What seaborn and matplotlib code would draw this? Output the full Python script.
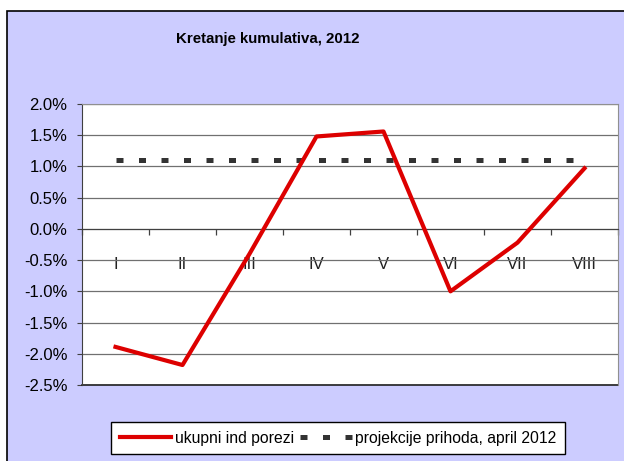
import numpy as np
import pandas as pd
import matplotlib
matplotlib.use("Agg")
import matplotlib.pyplot as plt
from matplotlib.patches import Rectangle
from matplotlib.ticker import FixedLocator, FuncFormatter
import seaborn as sns

# podaci
meseci = ["I", "II", "III", "IV", "V", "VI", "VII", "VIII"]
ukupni_ind_porezi = [-1.89, -2.18, -0.40, 1.48, 1.56, -1.00, -0.22, 0.97]
projekcija = [1.10, 1.10, 1.10, 1.10, 1.10, 1.10, 1.10, 1.10]

plt.rcParams["font.family"] = ["Liberation Sans", "DejaVu Sans"]

df = pd.DataFrame({"mesec": meseci, "ukupni": ukupni_ind_porezi, "proj": projekcija})

W, H = 624, 461
fig = plt.figure(figsize=(W / 100, H / 100), dpi=100)
fig.patch.set_facecolor("white")

# lavanda pozadina sa okvirom
fig.patches.append(Rectangle((7 / W, -0.1), 2, 1 - 11 / H + 0.1, transform=fig.transFigure,
                             facecolor="#CCCCFF", edgecolor="black", lw=1.2, zorder=-5))

ax = fig.add_axes([82 / W, 1 - 385 / H, 536 / W, 281 / H])
ax.set_facecolor("white")

sns.lineplot(data=df, x="mesec", y="ukupni", ax=ax, color="#DD0000", lw=3.0,
             label="ukupni ind porezi", sort=False, zorder=4)
sns.lineplot(data=df, x="mesec", y="proj", ax=ax, color="#333333", lw=3.6,
             linestyle=(0, (1.4, 3.1)), label="projekcije prihoda, april 2012",
             sort=False, zorder=3)

ax.set_xlim(-0.5, 7.5)
ax.set_ylim(-2.5, 2.0)
ax.yaxis.set_major_locator(FixedLocator(np.arange(-2.5, 2.01, 0.5)))
ax.yaxis.set_major_formatter(FuncFormatter(lambda v, p: f"{v:.1f}%"))
ax.grid(axis="y", color="#707070", lw=0.9)
ax.set_axisbelow(True)
# donja ivica polja
ax.axhline(-2.5, color="#202020", lw=1.2, clip_on=False, zorder=2)

# x osa na nuli
ax.spines["bottom"].set_position(("data", 0))
ax.spines["bottom"].set_color("#404040")
for s in ["top", "right"]:
    ax.spines[s].set_color("#909090")
ax.spines["left"].set_color("#404040")

ax.set_xticks(range(len(meseci)))
ax.set_xticklabels(meseci)
ax.set_xticks(np.arange(-0.5, 7.6, 1.0), minor=True)
ax.tick_params(axis="x", which="major", length=0, pad=20, labelsize=12, labelcolor="#222222")
ax.tick_params(axis="x", which="minor", length=4.3, direction="out", color="#404040", width=0.9)
ax.tick_params(axis="y", length=3.6, pad=7, labelsize=12, color="#404040", labelcolor="black")
ax.set_xlabel("")
ax.set_ylabel("")

ax.get_legend().remove()
handles, labels = ax.get_legend_handles_labels()
leg = fig.legend(handles, labels, loc="upper left", bbox_to_anchor=(111 / W, 1 - 422 / H),
                 ncol=2, frameon=True, fancybox=False, edgecolor="black", framealpha=1,
                 fontsize=11.3, handlelength=3.3, handletextpad=0.2, columnspacing=0.4,
                 borderaxespad=0, borderpad=0.55)
leg.get_frame().set_linewidth(1.0)

fig.text(268 / W, 1 - 39 / H, "Kretanje kumulativa, 2012", ha="center", va="center",
         fontsize=10.8, fontweight="bold")

fig.savefig("out.png", dpi=100)
